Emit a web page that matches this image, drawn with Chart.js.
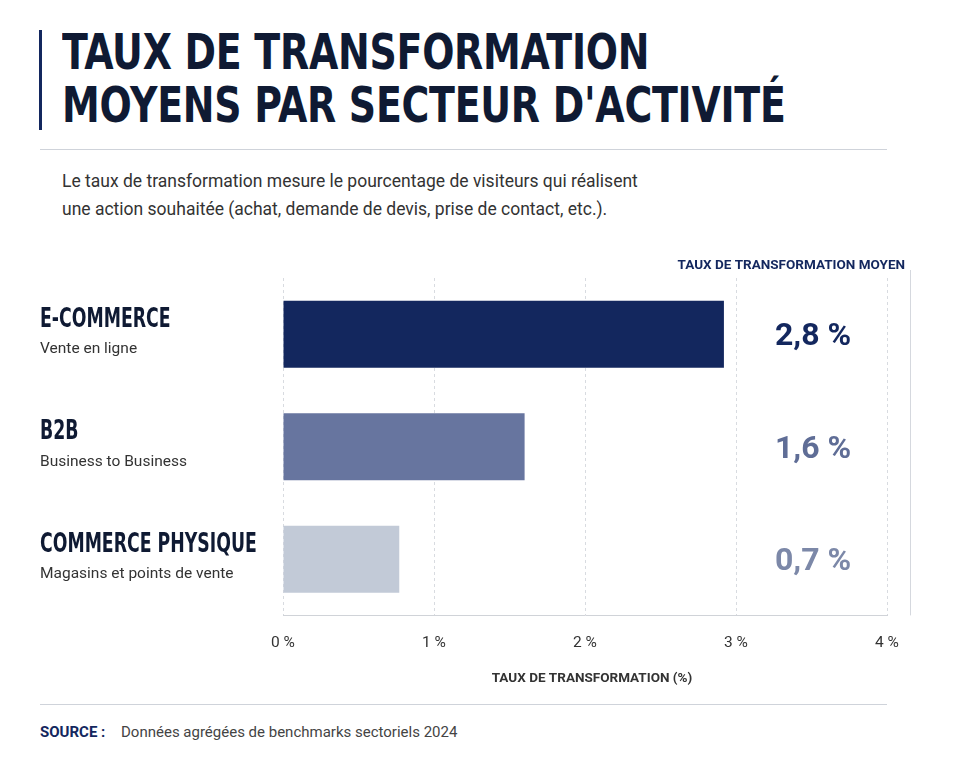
<!DOCTYPE html>
<html><head><meta charset="utf-8">
<script src="https://cdn.jsdelivr.net/npm/chart.js@4"></script>
<style>
body{margin:0;background:#fff;font-family:Roboto,"Liberation Sans",sans-serif;}
#wrap{position:relative;width:960px;height:768px;overflow:hidden}
.title{position:absolute;left:62px;top:26px;font-family:"DejaVu Sans Condensed","DejaVu Sans";font-weight:bold;font-size:49px;line-height:53px;color:#0f1a33;transform:scaleX(0.86);transform-origin:left top;white-space:nowrap;letter-spacing:-0.3px}
.bar{position:absolute;left:39px;top:30px;width:3px;height:100px;background:#13275e}
.rule{position:absolute;left:40px;width:847px;height:1px;background:#cfd3da}
.sub{position:absolute;left:62px;top:167px;font-size:17.5px;line-height:28px;color:#333}
.src{position:absolute;left:40px;top:723px;font-size:15px;color:#444}
.src b{color:#13275e;margin-right:12px}
canvas{position:absolute;left:0;top:0}
</style></head><body>
<div id="wrap">
<div class="bar"></div>
<div class="title">TAUX DE TRANSFORMATION<br>MOYENS PAR SECTEUR D'ACTIVITÉ</div>
<div class="rule" style="top:149px"></div>
<div class="sub">Le taux de transformation mesure le pourcentage de visiteurs qui réalisent<br>une action souhaitée (achat, demande de devis, prise de contact, etc.).</div>
<div class="rule" style="top:704px"></div>
<div class="src"><b>SOURCE :</b> Données agrégées de benchmarks sectoriels 2024</div>
<canvas id="c" width="960" height="768"></canvas>
</div>
<script>
// categories and values
const sectors = ['E-COMMERCE', 'B2B', 'COMMERCE PHYSIQUE'];
const sectorNotes = ['Vente en ligne', 'Business to Business', 'Magasins et points de vente'];
const barValues = [2.92, 1.6, 0.77];
const valueLabels = ['2,8 %', '1,6 %', '0,7 %'];
const barColors = ['#13275e', '#67759f', '#c2cad7'];
const labelColors = ['#13275e', '#5f6d96', '#7c88a8'];
const xTicks = [0, 1, 2, 3, 4];

const sideText = {
    id: 'sideText',
    afterDraw(chart) {
        const ctx = chart.ctx;
        const y = chart.scales.y;
        const area = chart.chartArea;
        ctx.save();
        // column header
        ctx.fillStyle = '#13275e';
        ctx.font = 'bold 13.5px Roboto';
        ctx.textAlign = 'right';
        ctx.textBaseline = 'middle';
        ctx.fillText('TAUX DE TRANSFORMATION MOYEN', 905, 266);
        // right panel line
        ctx.strokeStyle = '#d5d8de';
        ctx.beginPath();
        ctx.moveTo(910.5, 270);
        ctx.lineTo(910.5, area.bottom);
        ctx.stroke();
        sectors.forEach((s, i) => {
            const cy = y.getPixelForValue(i);
            ctx.textAlign = 'left';
            ctx.fillStyle = '#0f1a33';
            ctx.font = 'bold 26px "DejaVu Sans Condensed"';
            ctx.save();
            ctx.translate(40, cy - 14);
            ctx.scale(0.74, 1);
            ctx.fillText(s, 0, 0);
            ctx.restore();
            ctx.fillStyle = '#333';
            ctx.font = '15.5px Roboto';
            ctx.fillText(sectorNotes[i], 40, cy + 15);
            ctx.textAlign = 'center';
            ctx.fillStyle = labelColors[i];
            ctx.font = 'bold 32px Roboto';
            ctx.fillText(valueLabels[i], 813, cy + 3);
        });
        // axis title
        ctx.textAlign = 'center';
        ctx.fillStyle = '#333';
        ctx.font = 'bold 13.5px Roboto';
        ctx.fillText('TAUX DE TRANSFORMATION (%)', 592, 679);
        ctx.restore();
    }
};

new Chart(document.getElementById('c'), {
    type: 'bar',
    data: {
        labels: sectors,
        datasets: [{
            data: barValues,
            backgroundColor: barColors,
            barPercentage: 0.595,
            categoryPercentage: 1
        }]
    },
    options: {
        indexAxis: 'y',
        responsive: false,
        animation: false,
        layout: { padding: { left: 283, right: 73, top: 278, bottom: 98 } },
        plugins: { legend: { display: false }, tooltip: { enabled: false } },
        scales: {
            y: { display: false },
            x: {
                min: xTicks[0],
                max: xTicks[xTicks.length - 1],
                afterBuildTicks: axis => { axis.ticks = xTicks.map(v => ({ value: v })); },
                ticks: {
                    callback: v => v + ' %',
                    color: '#333',
                    font: { family: 'Roboto', size: 15.5 },
                    padding: 18
                },
                grid: { color: '#d8dbe0', drawTicks: false },
                border: { display: true, color: '#d0d3d8', dash: [3, 3] }
            }
        }
    },
    plugins: [sideText]
});
</script>
</body></html>
